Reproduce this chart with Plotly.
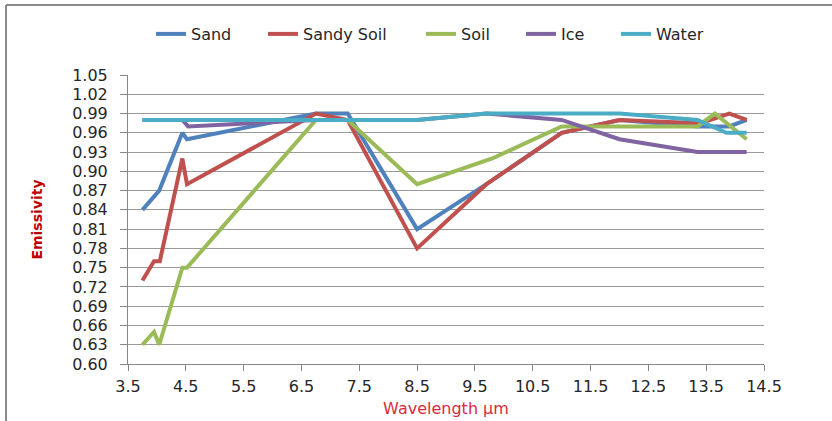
import plotly.graph_objects as go

# Data
sand_x = [3.75, 4.04, 4.44, 4.52, 6.75, 7.3, 8.5, 9.7, 11.0, 12.0, 13.35, 13.9, 14.2]
sand_y = [0.84, 0.87, 0.96, 0.95, 0.99, 0.99, 0.81, 0.88, 0.96, 0.98, 0.97, 0.97, 0.98]

sandy_x = [3.75, 3.95, 4.05, 4.44, 4.52, 6.75, 7.3, 8.5, 9.7, 11.0, 12.0, 13.4, 13.9, 14.2]
sandy_y = [0.73, 0.76, 0.76, 0.92, 0.88, 0.99, 0.98, 0.78, 0.88, 0.96, 0.98, 0.975, 0.99, 0.98]

soil_x = [3.75, 3.95, 4.04, 4.44, 4.52, 6.75, 7.3, 8.5, 9.8, 11.0, 12.0, 13.35, 13.65, 14.2]
soil_y = [0.63, 0.65, 0.63, 0.75, 0.75, 0.98, 0.98, 0.88, 0.92, 0.97, 0.97, 0.97, 0.99, 0.95]

ice_x = [3.75, 4.44, 4.54, 6.75, 7.3, 8.5, 9.7, 11.0, 12.0, 13.35, 14.2]
ice_y = [0.98, 0.98, 0.97, 0.98, 0.98, 0.98, 0.99, 0.98, 0.95, 0.93, 0.93]

water_x = [3.75, 8.5, 9.7, 12.0, 13.35, 13.85, 14.2]
water_y = [0.98, 0.98, 0.99, 0.99, 0.98, 0.96, 0.96]

x_ticks = [3.5, 4.5, 5.5, 6.5, 7.5, 8.5, 9.5, 10.5, 11.5, 12.5, 13.5, 14.5]
y_ticks = [0.60, 0.63, 0.66, 0.69, 0.72, 0.75, 0.78, 0.81, 0.84, 0.87, 0.90,
           0.93, 0.96, 0.99, 1.02, 1.05]

series_names = ["Sand", "Sandy Soil", "Soil", "Ice", "Water"]
series_x = [sand_x, sandy_x, soil_x, ice_x, water_x]
series_y = [sand_y, sandy_y, soil_y, ice_y, water_y]
series_colors = ["#4F81BD", "#C0504D", "#9BBB59", "#8064A2", "#4BACC6"]

FONT = "DejaVu Sans"
W, H = 832, 421
L, R, T, B = 128, 68, 75, 57
pw, ph = W - L - R, H - T - B


def px_x(p):
    return (p - L) / pw


def px_y(p):
    return (H - B - p) / ph


# legend text start pixels (one legend per series, laid out in a row)
legend_text_px = [196, 308, 466, 566, 661]

fig = go.Figure()
legend_layouts = {}
for i, (name, xs, ys, col) in enumerate(zip(series_names, series_x, series_y, series_colors)):
    lname = "legend" if i == 0 else f"legend{i + 1}"
    fig.add_trace(go.Scatter(x=xs, y=ys, mode="lines", name=name,
                             line=dict(color=col, width=4), legend=lname))
    legend_layouts[lname] = dict(
        orientation="h", x=px_x(legend_text_px[i] - 45), xanchor="left",
        y=px_y(34), yanchor="middle",
        font=dict(family=FONT, size=16, color="#262626"),
        bgcolor="rgba(0,0,0,0)", borderwidth=0)

fig.update_layout(
    width=W, height=H,
    margin=dict(l=L, r=R, t=T, b=B, autoexpand=False),
    paper_bgcolor="white", plot_bgcolor="white",
    font=dict(family=FONT, size=15, color="#262626"),
    showlegend=True,
    xaxis=dict(range=[3.5, 14.5], tickmode="array", tickvals=x_ticks,
               ticktext=[f"{v:.1f}" for v in x_ticks],
               showgrid=False, zeroline=False, automargin=False,
               showline=True, linecolor="#868686", linewidth=1,
               ticks="outside", ticklen=6, tickcolor="#868686",
               ticklabelstandoff=2,
               tickfont=dict(family=FONT, size=16, color="#262626"),
               title=dict(text="Wavelength µm", standoff=7,
                          font=dict(family=FONT, size=16, color="#D92B3A"))),
    yaxis=dict(range=[0.60, 1.05], tickmode="array", tickvals=y_ticks,
               ticktext=[f"{v:.2f}" for v in y_ticks],
               showgrid=True, gridcolor="#9a9a9a", gridwidth=1,
               zeroline=False, automargin=False,
               showline=True, linecolor="#868686", linewidth=1,
               ticks="outside", ticklen=7, tickcolor="#868686",
               ticklabelstandoff=9,
               tickfont=dict(family=FONT, size=16, color="#262626"),
               title=dict(text="<b>Emissivity</b>", standoff=26,
                          font=dict(family=FONT, size=14, color="#C00000"))),
    shapes=[
        dict(type="line", xref="paper", yref="paper",
             x0=px_x(6), x1=px_x(832), y0=px_y(5), y1=px_y(5),
             line=dict(color="#8a8a8a", width=2)),
        dict(type="line", xref="paper", yref="paper",
             x0=px_x(6), x1=px_x(6), y0=px_y(5), y1=px_y(421),
             line=dict(color="#8a8a8a", width=2)),
    ],
    **legend_layouts,
)

fig.write_html("out.html", config={"displayModeBar": False},
               post_script="document.body.style.margin='0';")
